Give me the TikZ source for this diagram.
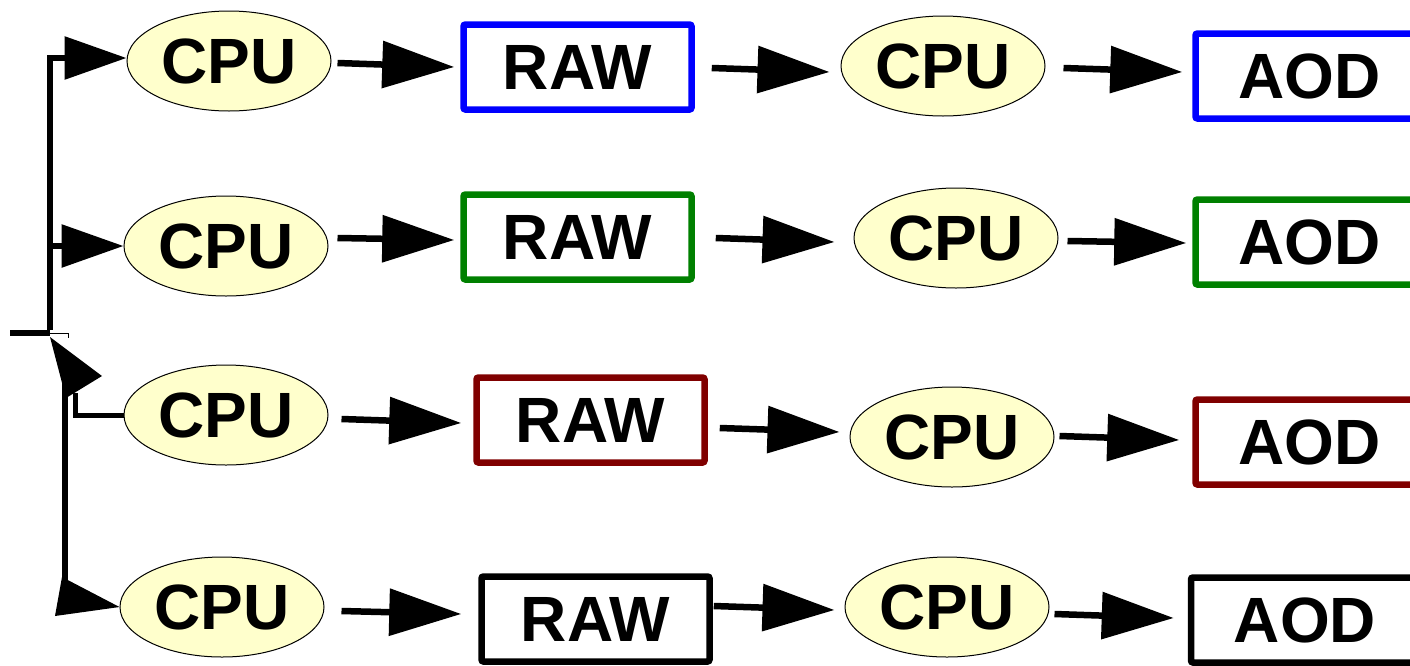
\documentclass[tikz,border=0pt]{standalone}
\usepackage{fontspec}
\setmainfont{Liberation Sans}
\usetikzlibrary{arrows.meta,shapes.geometric,calc}
\definecolor{cpufill}{HTML}{FFFFCC}
\definecolor{rawblue}{HTML}{0000FF}
\definecolor{rawgreen}{HTML}{008000}
\definecolor{rawred}{HTML}{800000}
\tikzset{
  cpu/.style={ellipse,draw=black,line width=1pt,fill=cpufill,inner sep=0pt,
    minimum width=204pt,minimum height=100pt,
    font=\fontsize{64}{64}\selectfont\bfseries},
  databox/.style={draw=#1,line width=6.5pt,rounded corners=2pt,inner sep=0pt,
    minimum width=228pt,minimum height=85pt,
    font=\fontsize{64}{64}\selectfont\bfseries},
  flow/.style={line width=6.5pt,
    -{Triangle[length=72pt 0 0,width=46pt 0 0]}},
  branch/.style={line width=6pt,-{Triangle[length=62pt 0 0,width=42pt 0 0]}},
  wire/.style={line width=6pt},
}
% \flowarr{from anchor}{offset}{to anchor}{offset}
\newcommand{\flowarr}[4]{\draw[flow] ($(#1)+(#2)$) -- ($(#3)+(#4)$);}
\begin{document}
\begin{tikzpicture}[x=1pt,y=-1pt]
\useasboundingbox (0,0) rectangle (1410,665);
% row 1
\node[cpu] (c11) at (229,61) {CPU};
\node[databox=rawblue] (r1) at (577.5,67) {RAW};
\node[cpu] (c12) at (943,66) {CPU};
\node[databox=rawblue] (a1) at (1309.5,76) {AOD};
% row 2
\node[cpu] (c21) at (226,246) {CPU};
\node[databox=rawgreen] (r2) at (577.5,237) {RAW};
\node[cpu] (c22) at (956,238) {CPU};
\node[databox=rawgreen] (a2) at (1309.5,242) {AOD};
% row 3
\node[cpu] (c31) at (226,415) {CPU};
\node[databox=rawred] (r3) at (590.5,420) {RAW};
\node[cpu] (c32) at (952,437) {CPU};
\node[databox=rawred] (a3) at (1309.5,442) {AOD};
% row 4
\node[cpu] (c41) at (222,607) {CPU};
\node[databox=black] (r4) at (595.5,619) {RAW};
\node[cpu] (c42) at (947,607) {CPU};
\node[databox=black] (a4) at (1305,620) {AOD};
% flow arrows
\flowarr{c11.east}{6,2}{r1.west}{-6,0}
\flowarr{r1.east}{17,1}{c12.west}{-11,6}
\flowarr{c12.east}{18,2}{a1.west}{-10,-4}
\flowarr{c21.east}{9,-8}{r2.west}{-6,3}
\flowarr{r2.east}{21,1}{c22.west}{-19,4}
\flowarr{c22.east}{9,3}{a2.west}{-6,1}
\flowarr{c31.east}{13,4}{r3.west}{-12,3}
\flowarr{r3.east}{12,8}{c32.west}{-10,-5}
\flowarr{c32.east}{5,-1}{a3.west}{-13,-2}
\flowarr{c41.east}{17,4}{r4.west}{-17,-5}
\flowarr{r4.east}{1,-13}{c42.west}{-10,3}
\flowarr{c42.east}{5,7}{a4.west}{-14,-2}
% left distribution
\coordinate (in) at (10,333);
\coordinate (j) at (50,333);
\coordinate (t) at (50,58);
\coordinate (k) at (68,333);
\coordinate (k3) at (75,393);
\coordinate (v3) at (65,377);
\coordinate (v4) at (65,580);
\draw[wire] (in) -- (j);
\draw[wire] ([yshift=3pt]j) -- (t);
\draw[branch] ([xshift=-3pt]t) -- (t -| c11.west);
\draw[branch] (j |- c21.west) -- (c21.west);
\draw[line width=1pt] (j) -- (k) -- ++(0,5);
\fill (50,337) -- (102,376) -- (66,398) -- cycle;
\draw[wire] (v3) -- (v4);
\draw[line width=5pt] (k3) |- (c31.west);
\fill (62,577) -- (c41.west) -- (55,616) -- cycle;
\end{tikzpicture}
\end{document}
